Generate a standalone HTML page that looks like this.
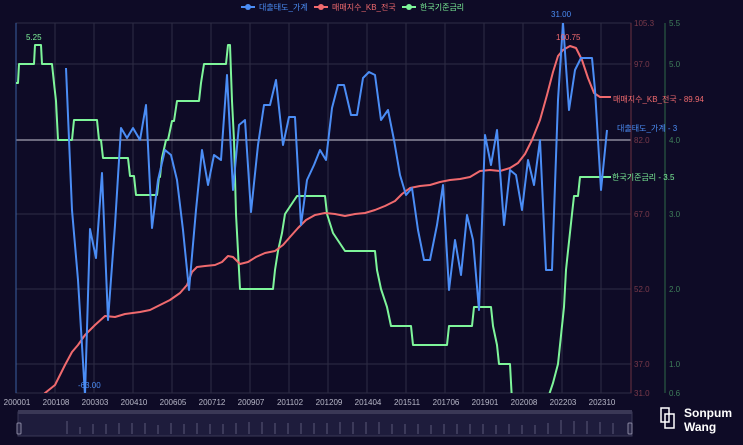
<!DOCTYPE html><html><head><meta charset="utf-8"><style>
body{margin:0;background:#0e0b26;width:743px;height:440px;overflow:hidden;font-family:"Liberation Sans","Noto Sans CJK KR",sans-serif}
</style></head><body>
<svg width="743" height="440" xmlns="http://www.w3.org/2000/svg" font-family="Liberation Sans, Noto Sans CJK KR, sans-serif">
<rect width="743" height="440" fill="#0e0b26"/>
<g stroke="#2e2c45" stroke-width="1">
<rect x="16" y="23" width="615" height="370" fill="none"/>
<line x1="55" y1="23" x2="55" y2="393"/><line x1="94" y1="23" x2="94" y2="393"/><line x1="133" y1="23" x2="133" y2="393"/><line x1="172" y1="23" x2="172" y2="393"/><line x1="211" y1="23" x2="211" y2="393"/><line x1="250" y1="23" x2="250" y2="393"/><line x1="289" y1="23" x2="289" y2="393"/><line x1="328" y1="23" x2="328" y2="393"/><line x1="367" y1="23" x2="367" y2="393"/><line x1="406" y1="23" x2="406" y2="393"/><line x1="445" y1="23" x2="445" y2="393"/><line x1="484" y1="23" x2="484" y2="393"/><line x1="523" y1="23" x2="523" y2="393"/><line x1="562" y1="23" x2="562" y2="393"/><line x1="601" y1="23" x2="601" y2="393"/>
<line x1="16" y1="64" x2="631" y2="64"/><line x1="16" y1="214" x2="631" y2="214"/><line x1="16" y1="289" x2="631" y2="289"/><line x1="16" y1="364" x2="631" y2="364"/>
</g>
<line x1="16" y1="140" x2="631" y2="140" stroke="#c9c8d6" stroke-width="1"/>
<line x1="16" y1="23" x2="16" y2="393" stroke="#3a5fa0"/>
<line x1="631" y1="23" x2="631" y2="393" stroke="#6a3040"/>
<line x1="665" y1="23" x2="665" y2="393" stroke="#2f6a48"/>
<g font-size="8" fill="#7a3a4a"><text x="634" y="26">105.3</text><text x="634" y="67">97.0</text><text x="634" y="143">82.0</text><text x="634" y="217">67.0</text><text x="634" y="292">52.0</text><text x="634" y="367">37.0</text><text x="634" y="396">31.0</text></g>
<g font-size="8" fill="#3f7f5a"><text x="669" y="26">5.5</text><text x="669" y="67">5.0</text><text x="669" y="143">4.0</text><text x="669" y="217">3.0</text><text x="669" y="292">2.0</text><text x="669" y="367">1.0</text><text x="669" y="396">0.6</text></g>
<g font-size="8" fill="#b8b8c8" text-anchor="middle"><text x="17" y="405">200001</text><text x="56" y="405">200108</text><text x="95" y="405">200303</text><text x="134" y="405">200410</text><text x="173" y="405">200605</text><text x="212" y="405">200712</text><text x="251" y="405">200907</text><text x="290" y="405">201102</text><text x="329" y="405">201209</text><text x="368" y="405">201404</text><text x="407" y="405">201511</text><text x="446" y="405">201706</text><text x="485" y="405">201901</text><text x="524" y="405">202008</text><text x="563" y="405">202203</text><text x="602" y="405">202310</text></g>
<defs><clipPath id="c"><rect x="16" y="23" width="615" height="370"/></clipPath></defs>
<g clip-path="url(#c)" fill="none" stroke-width="2" stroke-linejoin="round">
<polyline stroke="#7ef59a" points="16,83 18,83 19,64 34,64 35,45 41,45 42,64 52,64 54,83 56,101 58,140 72,140 74,120 97,120 99,140 101,140 103,158 128,158 130,176 134,176 136,195 157,195 159,177 160,177 162,158 166,140 168,140 172,121 174,121 177,101 199,101 201,83 204,64 226,64 228,45 230,45 232,101 234,140 236,214 240,289 273,289 275,270 278,251 282,233 285,214 297,196 325,196 327,214 333,233 345,251 375,251 377,270 381,289 387,307 391,326 411,326 413,345 447,345 449,326 472,326 474,307 491,307 493,326 497,345 499,364 510,364 512,401 515,420 545,420 547,401 553,383 558,364 560,345 562,326 564,307 566,270 568,251 572,214 574,196 578,196 580,177 611,177"/>
<polyline stroke="#f06a6e" points="40,400 45,393 55,385 60,375 65,365 72,352 78,345 85,335 95,325 105,316 115,317 125,314 140,312 150,310 160,305 170,300 180,293 187,285 192,272 197,267 205,266 215,265 222,262 228,256 233,257 240,264 248,262 256,257 265,253 275,251 283,245 290,237 298,228 306,220 315,215 325,213 335,214 345,216 355,214 365,213 375,210 385,206 395,201 402,194 410,188 420,186 430,185 440,182 450,180 460,179 470,177 480,171 490,170 500,171 510,168 518,163 525,154 532,140 540,120 547,95 553,72 558,56 563,50 570,46 576,48 582,60 588,78 594,93 600,97 611,97"/>
<polyline stroke="#4b8df5" points="66,68 72,210 78,280 85,395 90,229 96,258 102,173 108,320 115,225 121,128 127,138 133,128 140,140 146,105 152,228 158,180 165,150 171,155 177,180 183,230 189,290 196,210 202,150 208,185 214,155 221,160 227,75 233,190 239,125 245,120 251,212 258,145 264,105 270,105 276,80 283,145 289,117 295,117 301,225 307,180 314,165 320,150 326,160 332,108 338,85 344,85 351,115 357,115 363,78 369,72 375,75 381,120 388,110 394,140 400,175 406,195 412,188 418,230 424,260 430,260 437,225 443,185 449,290 455,240 461,275 467,215 473,240 479,310 485,135 491,165 497,130 504,225 510,170 516,175 522,210 528,160 534,185 540,140 546,270 552,270 558,100 563,23 569,110 575,70 581,58 592,58 595,90 601,190 607,130"/>
</g>
<g font-size="8">
<text x="26" y="40" fill="#7ef59a">5.25</text>
<text x="551" y="17" fill="#4b8df5">31.00</text>
<text x="556" y="40" fill="#f06a6e">100.75</text>
<text x="78" y="388" fill="#4b8df5">-63.00</text>
<text x="613" y="102" fill="#f06a6e">매매지수_KB_전국 - 89.94</text>
<text x="617" y="131" fill="#4b8df5">대출태도_가계 - 3</text>
<text x="612" y="180" fill="#7ef59a">한국기준금리 - 3.5</text>
</g>
<g font-size="8">
<line x1="241" y1="7" x2="255" y2="7" stroke="#4b8df5" stroke-width="2"/><circle cx="248" cy="7" r="3" fill="#4b8df5"/><text x="259" y="10" fill="#4b8df5">대출태도_가계</text>
<line x1="314" y1="7" x2="328" y2="7" stroke="#f06a6e" stroke-width="2"/><circle cx="321" cy="7" r="3" fill="#f06a6e"/><text x="332" y="10" fill="#f06a6e">매매지수_KB_전국</text>
<line x1="402" y1="7" x2="416" y2="7" stroke="#7ef59a" stroke-width="2"/><circle cx="409" cy="7" r="3" fill="#7ef59a"/><text x="420" y="10" fill="#7ef59a">한국기준금리</text>
</g>
<rect x="18" y="412" width="614" height="24" fill="#1e1c3c" stroke="#3a3856"/>
<rect x="18" y="410" width="614" height="4" fill="#3a3856"/>
<g stroke="#5a5878" stroke-width="1">
<line x1="67" y1="434" x2="67" y2="421"/><line x1="80" y1="434" x2="80" y2="427"/><line x1="93" y1="434" x2="93" y2="424"/><line x1="106" y1="434" x2="106" y2="424"/><line x1="119" y1="434" x2="119" y2="423"/><line x1="132" y1="434" x2="132" y2="423"/><line x1="145" y1="434" x2="145" y2="423"/><line x1="158" y1="434" x2="158" y2="425"/><line x1="171" y1="434" x2="171" y2="423"/><line x1="184" y1="434" x2="184" y2="424"/><line x1="197" y1="434" x2="197" y2="423"/><line x1="210" y1="434" x2="210" y2="424"/><line x1="223" y1="434" x2="223" y2="424"/><line x1="236" y1="434" x2="236" y2="423"/><line x1="249" y1="434" x2="249" y2="422"/><line x1="262" y1="434" x2="262" y2="422"/><line x1="275" y1="434" x2="275" y2="423"/><line x1="288" y1="434" x2="288" y2="423"/><line x1="301" y1="434" x2="301" y2="423"/><line x1="314" y1="434" x2="314" y2="423"/><line x1="327" y1="434" x2="327" y2="423"/><line x1="340" y1="434" x2="340" y2="422"/><line x1="353" y1="434" x2="353" y2="422"/><line x1="366" y1="434" x2="366" y2="422"/><line x1="379" y1="434" x2="379" y2="422"/><line x1="392" y1="434" x2="392" y2="424"/><line x1="405" y1="434" x2="405" y2="424"/><line x1="418" y1="434" x2="418" y2="424"/><line x1="431" y1="434" x2="431" y2="425"/><line x1="444" y1="434" x2="444" y2="424"/><line x1="457" y1="434" x2="457" y2="424"/><line x1="470" y1="434" x2="470" y2="424"/><line x1="483" y1="434" x2="483" y2="424"/><line x1="496" y1="434" x2="496" y2="425"/><line x1="509" y1="434" x2="509" y2="424"/><line x1="522" y1="434" x2="522" y2="425"/><line x1="535" y1="434" x2="535" y2="425"/><line x1="548" y1="434" x2="548" y2="423"/><line x1="561" y1="434" x2="561" y2="420"/><line x1="574" y1="434" x2="574" y2="421"/><line x1="587" y1="434" x2="587" y2="421"/><line x1="600" y1="434" x2="600" y2="422"/><line x1="613" y1="434" x2="613" y2="423"/>
</g>
<rect x="17" y="423" width="4" height="11" rx="1" fill="#2a2848" stroke="#8886a0"/>
<rect x="628" y="423" width="4" height="11" rx="1" fill="#2a2848" stroke="#8886a0"/>
<g stroke="#fff" stroke-width="1.5" fill="none"><rect x="661" y="408" width="8" height="14"/><rect x="665" y="414" width="9" height="14"/></g>
<text x="684" y="417" font-size="12" font-weight="bold" fill="#fff">Sonpum</text>
<text x="684" y="431" font-size="12" font-weight="bold" fill="#fff">Wang</text>
</svg>
</body></html>
